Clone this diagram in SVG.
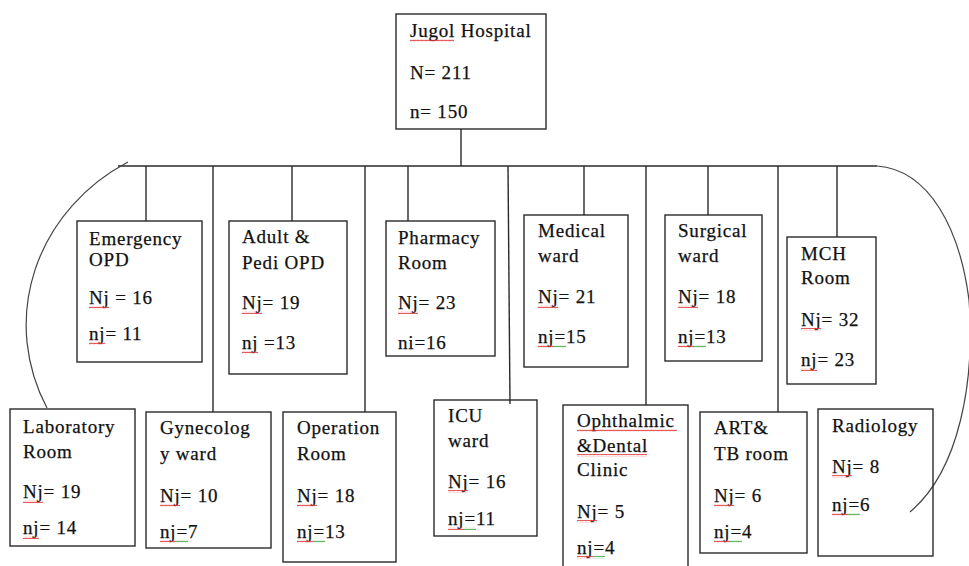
<svg xmlns="http://www.w3.org/2000/svg" width="969" height="566" viewBox="0 0 969 566">
<style>
  .box{fill:none;stroke:#2a2a2a;stroke-width:1.4}
  .t{font-family:"Liberation Serif","Times New Roman",serif;font-size:19px;letter-spacing:0.8px;fill:#111;stroke:#111;stroke-width:0.25}
  .ln{stroke:#2a2a2a;stroke-width:1.4;fill:none}
  .arc{stroke:#444;stroke-width:1.2;fill:none}
</style>
<defs>
  <pattern id="wr" width="4" height="3" patternUnits="userSpaceOnUse">
    <path d="M0,2.2 L1,0.8 L2,2.2 L3,0.8 L4,2.2" stroke="#e03030" stroke-width="0.8" fill="none"/>
  </pattern>
  <pattern id="wg" width="4" height="3" patternUnits="userSpaceOnUse">
    <path d="M0,2.2 L1,0.8 L2,2.2 L3,0.8 L4,2.2" stroke="#3aa53a" stroke-width="0.8" fill="none"/>
  </pattern>
</defs>
<rect width="969" height="566" fill="#fff"/>

<g id="connectors">
  <line class="ln" x1="461" y1="129" x2="461" y2="166"/>
  <line class="ln" x1="118" y1="166" x2="877" y2="166"/>
  <line class="ln" x1="146" y1="166" x2="146" y2="221"/>
  <line class="ln" x1="213" y1="166" x2="213" y2="412"/>
  <line class="ln" x1="292" y1="166" x2="292" y2="221"/>
  <line class="ln" x1="365" y1="166" x2="365" y2="412"/>
  <line class="ln" x1="408" y1="166" x2="408" y2="221"/>
  <line class="ln" x1="508" y1="166" x2="510" y2="404"/>
  <line class="ln" x1="584" y1="166" x2="584" y2="215"/>
  <line class="ln" x1="646" y1="166" x2="646" y2="405"/>
  <line class="ln" x1="708" y1="166" x2="708" y2="215"/>
  <line class="ln" x1="778" y1="166" x2="778" y2="412"/>
  <line class="ln" x1="837" y1="166" x2="837" y2="237"/>
  <path class="arc" d="M128,162 A200,187 0 0 0 47,408"/>
  <path class="arc" d="M877,166 C930,170 960,230 969,300 C975,380 960,470 910,512"/>
</g>

<g id="jugol">
  <rect class="box" x="396" y="14" width="150" height="115"/>
  <text class="t" x="410" y="37">Jugol Hospital</text>
  <text class="t" x="410" y="79">N= 211</text>
  <text class="t" x="410" y="118">n= 150</text>
  <rect x="410" y="39" width="44" height="3" fill="url(#wr)"/>
</g>

<g id="emergency">
  <rect class="box" x="77" y="221" width="125" height="141"/>
  <text class="t" x="89" y="245">Emergency</text>
  <text class="t" x="89" y="266">OPD</text>
  <text class="t" x="89" y="304">Nj = 16</text>
  <text class="t" x="89" y="340">nj= 11</text>
  <rect x="89" y="306" width="20" height="3" fill="url(#wr)"/>
  <rect x="89" y="342" width="16" height="3" fill="url(#wr)"/>
</g>

<g id="adult">
  <rect class="box" x="229" y="221" width="118" height="153"/>
  <text class="t" x="242" y="243">Adult &amp;</text>
  <text class="t" x="242" y="269">Pedi OPD</text>
  <text class="t" x="242" y="309">Nj= 19</text>
  <text class="t" x="242" y="349">nj =13</text>
  <rect x="242" y="311" width="20" height="3" fill="url(#wr)"/>
  <rect x="242" y="351" width="16" height="3" fill="url(#wr)"/>
</g>

<g id="pharmacy">
  <rect class="box" x="386" y="221" width="109" height="135"/>
  <text class="t" x="398" y="244">Pharmacy</text>
  <text class="t" x="398" y="269">Room</text>
  <text class="t" x="398" y="309">Nj= 23</text>
  <text class="t" x="398" y="349">ni=16</text>
  <rect x="398" y="311" width="20" height="3" fill="url(#wr)"/>
</g>

<g id="medical">
  <rect class="box" x="524" y="215" width="104" height="152"/>
  <text class="t" x="538" y="237">Medical</text>
  <text class="t" x="538" y="262">ward</text>
  <text class="t" x="538" y="303">Nj= 21</text>
  <text class="t" x="538" y="343">nj=15</text>
  <rect x="538" y="305" width="20" height="3" fill="url(#wr)"/>
  <rect x="538" y="345" width="16" height="3" fill="url(#wr)"/>
  <rect x="554" y="345" width="12" height="3" fill="url(#wg)"/>
</g>

<g id="surgical">
  <rect class="box" x="665" y="215" width="97" height="146"/>
  <text class="t" x="678" y="237">Surgical</text>
  <text class="t" x="678" y="262">ward</text>
  <text class="t" x="678" y="303">Nj= 18</text>
  <text class="t" x="678" y="343">nj=13</text>
  <rect x="678" y="305" width="20" height="3" fill="url(#wr)"/>
  <rect x="678" y="345" width="16" height="3" fill="url(#wr)"/>
  <rect x="694" y="345" width="12" height="3" fill="url(#wg)"/>
</g>

<g id="mch">
  <rect class="box" x="787" y="237" width="89" height="147"/>
  <text class="t" x="801" y="260">MCH</text>
  <text class="t" x="801" y="284">Room</text>
  <text class="t" x="801" y="326">Nj= 32</text>
  <text class="t" x="801" y="366">nj= 23</text>
  <rect x="801" y="328" width="20" height="3" fill="url(#wr)"/>
  <rect x="801" y="368" width="16" height="3" fill="url(#wr)"/>
</g>

<g id="laboratory">
  <rect class="box" x="10" y="409" width="125" height="137"/>
  <text class="t" x="23" y="433">Laboratory</text>
  <text class="t" x="23" y="458">Room</text>
  <text class="t" x="23" y="498">Nj= 19</text>
  <text class="t" x="23" y="534">nj= 14</text>
  <rect x="23" y="500" width="20" height="3" fill="url(#wr)"/>
  <rect x="23" y="536" width="16" height="3" fill="url(#wr)"/>
</g>

<g id="gynecology">
  <rect class="box" x="146" y="412" width="125" height="136"/>
  <text class="t" x="160" y="434">Gynecolog</text>
  <text class="t" x="160" y="460">y ward</text>
  <text class="t" x="160" y="502">Nj= 10</text>
  <text class="t" x="160" y="538">nj=7</text>
  <rect x="160" y="504" width="20" height="3" fill="url(#wr)"/>
  <rect x="160" y="540" width="16" height="3" fill="url(#wr)"/>
  <rect x="176" y="540" width="12" height="3" fill="url(#wg)"/>
</g>

<g id="operation">
  <rect class="box" x="283" y="412" width="113" height="150"/>
  <text class="t" x="297" y="434">Operation</text>
  <text class="t" x="297" y="460">Room</text>
  <text class="t" x="297" y="502">Nj= 18</text>
  <text class="t" x="297" y="538">nj=13</text>
  <rect x="297" y="504" width="20" height="3" fill="url(#wr)"/>
  <rect x="297" y="540" width="16" height="3" fill="url(#wr)"/>
  <rect x="313" y="540" width="12" height="3" fill="url(#wg)"/>
</g>

<g id="icu">
  <rect class="box" x="434" y="400" width="103" height="136"/>
  <text class="t" x="448" y="422">ICU</text>
  <text class="t" x="448" y="447">ward</text>
  <text class="t" x="448" y="488">Nj= 16</text>
  <text class="t" x="448" y="525">nj=11</text>
  <rect x="448" y="490" width="20" height="3" fill="url(#wr)"/>
  <rect x="448" y="527" width="16" height="3" fill="url(#wr)"/>
  <rect x="464" y="527" width="12" height="3" fill="url(#wg)"/>
</g>

<g id="ophthalmic">
  <rect class="box" x="563" y="405" width="125" height="170"/>
  <text class="t" x="577" y="427">Ophthalmic</text>
  <text class="t" x="577" y="452">&amp;Dental</text>
  <text class="t" x="577" y="476">Clinic</text>
  <text class="t" x="577" y="518">Nj= 5</text>
  <text class="t" x="577" y="554">nj=4</text>
  <rect x="577" y="429" width="100" height="3" fill="url(#wr)"/>
  <rect x="577" y="454" width="70" height="3" fill="url(#wr)"/>
  <rect x="577" y="520" width="20" height="3" fill="url(#wr)"/>
  <rect x="577" y="556" width="16" height="3" fill="url(#wr)"/>
  <rect x="593" y="556" width="12" height="3" fill="url(#wg)"/>
</g>

<g id="art">
  <rect class="box" x="700" y="412" width="107" height="141"/>
  <text class="t" x="714" y="434">ART&amp;</text>
  <text class="t" x="714" y="460">TB room</text>
  <text class="t" x="714" y="502">Nj= 6</text>
  <text class="t" x="714" y="538">nj=4</text>
  <rect x="714" y="504" width="20" height="3" fill="url(#wr)"/>
  <rect x="714" y="540" width="16" height="3" fill="url(#wr)"/>
  <rect x="730" y="540" width="12" height="3" fill="url(#wg)"/>
</g>

<g id="radiology">
  <rect class="box" x="818" y="409" width="115" height="147"/>
  <text class="t" x="832" y="432">Radiology</text>
  <text class="t" x="832" y="473">Nj= 8</text>
  <text class="t" x="832" y="511">nj=6</text>
  <rect x="832" y="475" width="20" height="3" fill="url(#wr)"/>
  <rect x="832" y="513" width="16" height="3" fill="url(#wr)"/>
  <rect x="848" y="513" width="12" height="3" fill="url(#wg)"/>
</g>
</svg>
